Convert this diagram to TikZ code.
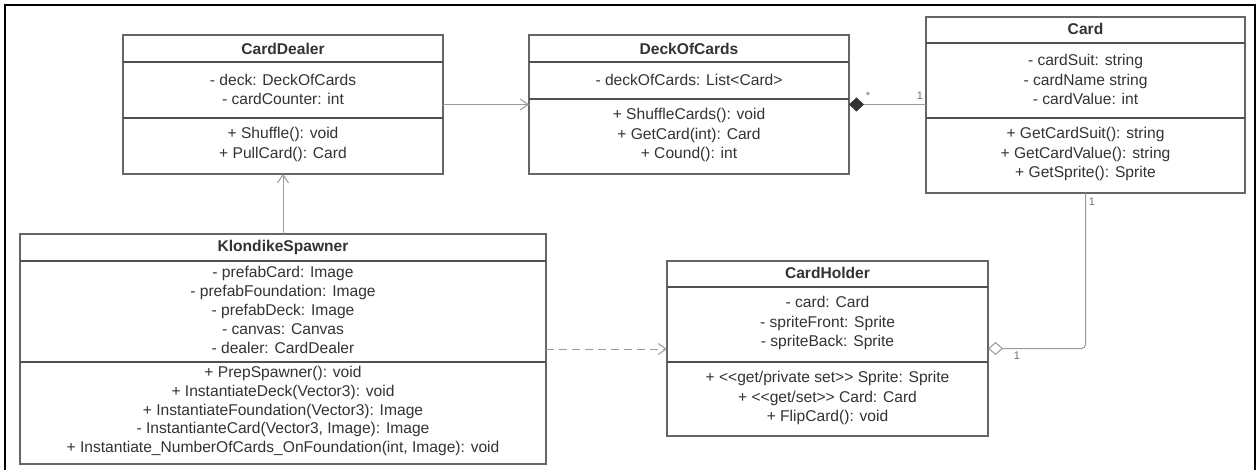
\documentclass[tikz,border=0pt]{standalone}
\usepackage{fontspec}
\setmainfont{Liberation Sans}
\usetikzlibrary{arrows.meta}
\definecolor{txt}{HTML}{333333}
\definecolor{boxc}{HTML}{666666}
\definecolor{sepc}{HTML}{505050}
\definecolor{linec}{HTML}{9A9A9A}
\definecolor{lblc}{HTML}{707070}
\begin{document}
\begin{tikzpicture}[x=1pt,y=-1pt,
  umlbox/.style 2 args={draw=boxc, line width=1.3pt, minimum width=#1, minimum height=#2,
     inner sep=0pt, outer sep=0pt, anchor=north west},
  sepline/.style={draw=sepc, line width=1.2pt},
  ttl/.style={text=txt, font=\fontsize{15.6}{19}\selectfont\bfseries, inner sep=0pt},
  body/.style={text=txt, font=\fontsize{15.6}{19.3}\selectfont, align=center, inner sep=0pt},
  bodyk/.style={text=txt, font=\fontsize{15.6}{18.8}\selectfont, align=center, inner sep=0pt},
  conn/.style={draw=linec, line width=1pt},
  lbl/.style={text=lblc, font=\fontsize{11}{12}\selectfont, inner sep=0pt},
  opentip/.tip={Straight Barb[length=8pt,width=11pt,line width=1pt]}
]
\useasboundingbox (0,0) rectangle (1257,470);
\fill[white] (0,0) rectangle (1257,470);
% frame
\draw[line width=2.4pt, black] (5,480) -- (5,5) -- (1255,5) -- (1255,480);

% CardDealer
\node[umlbox={320pt}{139pt}] (cd) at (123,35) {};
\draw[sepline] ([yshift=-27pt]cd.north west) -- ([yshift=-27pt]cd.north east);
\draw[sepline] ([yshift=-83pt]cd.north west) -- ([yshift=-83pt]cd.north east);
\node[ttl] (cdT) at (283,48.5) {CardDealer};
\node[body] (cdA) at (283,89.5) {- deck: DeckOfCards\\- cardCounter: int};
\node[body] (cdM) at (283,144.5) {+ Shuffle(): void\\+ PullCard(): Card};

% DeckOfCards
\node[umlbox={320pt}{139pt}] (dk) at (529,35) {};
\draw[sepline] ([yshift=-27pt]dk.north west) -- ([yshift=-27pt]dk.north east);
\draw[sepline] ([yshift=-64pt]dk.north west) -- ([yshift=-64pt]dk.north east);
\node[ttl] (dkT) at (689,48.5) {DeckOfCards};
\node[body] (dkA) at (689,80) {- deckOfCards: List<Card>};
\node[body] (dkM) at (689,135) {+ ShuffleCards(): void\\+ GetCard(int): Card\\+ Cound(): int};

% Card
\node[umlbox={319pt}{176pt}] (card) at (926,17) {};
\draw[sepline] ([yshift=-26pt]card.north west) -- ([yshift=-26pt]card.north east);
\draw[sepline] ([yshift=-101pt]card.north west) -- ([yshift=-101pt]card.north east);
\node[ttl] (cardT) at (1085.5,29) {Card};
\node[body] (cardA) at (1085.5,79.5) {- cardSuit: string\\- cardName string\\- cardValue: int};
\node[body] (cardM) at (1085.5,154) {+ GetCardSuit(): string\\+ GetCardValue(): string\\+ GetSprite(): Sprite};

% KlondikeSpawner
\node[umlbox={526pt}{230pt}] (ks) at (20,234) {};
\draw[sepline] ([yshift=-27pt]ks.north west) -- ([yshift=-27pt]ks.north east);
\draw[sepline] ([yshift=-128pt]ks.north west) -- ([yshift=-128pt]ks.north east);
\node[ttl] (ksT) at (283,247.5) {KlondikeSpawner};
\node[bodyk] (ksA) at (283,310) {- prefabCard: Image\\- prefabFoundation: Image\\- prefabDeck: Image\\- canvas: Canvas\\- dealer: CardDealer};
\node[bodyk] (ksM) at (283,411) {+ PrepSpawner(): void\\+ InstantiateDeck(Vector3): void\\+ InstantiateFoundation(Vector3): Image\\- InstantianteCard(Vector3, Image): Image\\+ Instantiate\_NumberOfCards\_OnFoundation(int, Image): void};

% CardHolder
\node[umlbox={321pt}{175pt}] (ch) at (667,261) {};
\draw[sepline] ([yshift=-26pt]ch.north west) -- ([yshift=-26pt]ch.north east);
\draw[sepline] ([yshift=-101pt]ch.north west) -- ([yshift=-101pt]ch.north east);
\node[ttl] (chT) at (827.5,273) {CardHolder};
\node[body] (chA) at (827.5,323) {- card: Card\\- spriteFront: Sprite\\- spriteBack: Sprite};
\node[body] (chM) at (827.5,398) {+ <\kern0pt<get/private set>\kern0pt> Sprite: Sprite\\+ <\kern0pt<get/set>\kern0pt> Card: Card\\+ FlipCard(): void};

% connectors
\draw[conn, -opentip] (cd.east) -- (cd.east -| dk.west);
\draw[conn, -opentip] (ks.north) -- (cd.south);
\draw[conn, {Diamond[length=15pt,width=14pt,fill=txt,color=txt]}-] (dk.east) -- (dk.east -| card.west);
\draw[conn, rounded corners=4pt, -{Diamond[open,length=15pt,width=13pt,line width=1pt]}] (card.south) |- (ch.east);
\draw[conn, dash pattern=on 8pt off 5pt, -opentip] (ks.east) -- (ks.east -| ch.west);

% multiplicities
\node[lbl] (mStar) at (868,95.5) {*};
\node[lbl] (mOneA) at (920,96) {1};
\node[lbl] (mOneB) at (1092,202) {1};
\node[lbl] (mOneC) at (1017,356) {1};
\end{tikzpicture}
\end{document}
